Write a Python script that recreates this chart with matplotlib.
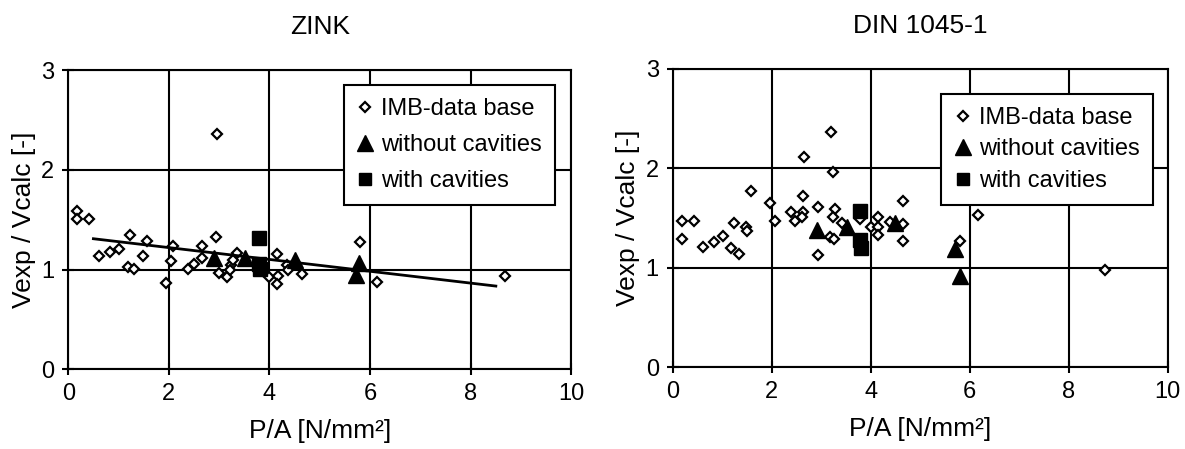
import matplotlib
matplotlib.use("Agg")
import matplotlib.pyplot as plt

plt.rcParams['font.family'] = ['Liberation Sans', 'DejaVu Sans']

# ZINK panel
zink_imb_x = [0.18, 0.18, 0.42, 0.62, 0.83, 1.01, 1.23, 1.18, 1.31, 1.49, 1.57, 1.94,
              2.04, 2.08, 2.39, 2.50, 2.65, 2.65, 2.94, 2.95, 3.00, 3.15, 3.23, 3.27,
              3.35, 3.21, 4.14, 4.00, 4.16, 4.14, 4.34, 4.37, 4.64, 5.79, 6.14, 8.69]
zink_imb_y = [1.59, 1.51, 1.51, 1.14, 1.18, 1.21, 1.35, 1.03, 1.01, 1.14, 1.29, 0.87,
              1.09, 1.24, 1.01, 1.06, 1.24, 1.12, 1.33, 2.36, 0.97, 0.93, 1.05, 1.10,
              1.17, 1.00, 1.16, 0.93, 0.94, 0.86, 1.05, 1.00, 0.96, 1.28, 0.88, 0.94]
zink_nocav_x = [2.90, 3.51, 4.51, 5.77, 5.72]
zink_nocav_y = [1.12, 1.12, 1.10, 1.07, 0.95]
zink_cav_x = [3.79, 3.79, 3.81]
zink_cav_y = [1.32, 1.06, 1.01]
zink_trend_x = [0.5, 8.5]
zink_trend_y = [1.31, 0.835]

# DIN 1045-1 panel
din_imb_x = [0.18, 0.18, 0.42, 0.61, 0.83, 1.02, 1.24, 1.17, 1.33, 1.49, 1.50, 1.58,
             1.97, 2.07, 2.39, 2.47, 2.64, 2.62, 2.64, 2.65, 2.94, 2.94, 3.24, 3.28,
             3.23, 3.18, 3.26, 3.41, 3.20, 3.79, 4.00, 4.15, 4.15, 4.15, 4.39, 4.66,
             4.66, 4.66, 5.80, 6.17, 8.74]
din_imb_y = [1.47, 1.29, 1.47, 1.21, 1.26, 1.32, 1.45, 1.20, 1.14, 1.41, 1.37, 1.77,
             1.65, 1.47, 1.56, 1.47, 1.56, 1.51, 1.72, 2.11, 1.61, 1.13, 1.96, 1.59,
             1.51, 1.31, 1.29, 1.45, 2.37, 1.49, 1.41, 1.51, 1.41, 1.33, 1.46, 1.67,
             1.44, 1.27, 1.27, 1.53, 0.98]
din_nocav_x = [2.91, 3.52, 4.49, 5.71, 5.81]
din_nocav_y = [1.38, 1.41, 1.45, 1.19, 0.92]
din_cav_x = [3.78, 3.78, 3.80]
din_cav_y = [1.57, 1.28, 1.20]

titles = ["ZINK", "DIN 1045-1"]
legend_labels = ["IMB-data base", "without cavities", "with cavities"]
legend_anchor = [(0.968, 0.951), (0.970, 0.916)]
legend_spacing = [0.6, 0.4]

fig = plt.figure(figsize=(11.85, 4.49), dpi=100)
ax1 = fig.add_axes([0.0576, 0.1775, 0.4245, 0.666])
ax2 = fig.add_axes([0.5677, 0.1824, 0.4177, 0.664])

panels = [
    (ax1, zink_imb_x, zink_imb_y, zink_nocav_x, zink_nocav_y, zink_cav_x, zink_cav_y),
    (ax2, din_imb_x, din_imb_y, din_nocav_x, din_nocav_y, din_cav_x, din_cav_y),
]

for i, (ax, ix, iy, nx, ny, cx, cy) in enumerate(panels):
    ax.grid(True, color='black', linewidth=1.5)
    ax.set_axisbelow(True)
    h1, = ax.plot(ix, iy, 'D', ms=5.5, mfc='white', mec='black', mew=1.6,
                  linestyle='none', label=legend_labels[0], zorder=3)
    h2, = ax.plot(nx, ny, '^', ms=12, color='black', linestyle='none',
                  label=legend_labels[1], zorder=4)
    h3, = ax.plot(cx, cy, 's', ms=10, color='black', linestyle='none',
                  label=legend_labels[2], zorder=4)
    if i == 0:
        # trend line of the ZINK data
        ax.plot(zink_trend_x, zink_trend_y, color='black', linewidth=2, zorder=5)
    ax.set_xlim(0, 10)
    ax.set_ylim(0, 3)
    ax.set_xticks([0, 2, 4, 6, 8, 10])
    ax.set_yticks([0, 1, 2, 3])
    ax.tick_params(labelsize=17, direction='inout', length=8, width=1.5, pad=6)
    for s in ax.spines.values():
        s.set_linewidth(1.5)
    ax.set_xlabel("P/A [N/mm²]", fontsize=19, labelpad=10)
    ax.set_ylabel("Vexp / Vcalc [-]", fontsize=19, labelpad=4)
    ax.set_title(titles[i], fontsize=19, pad=26)

    leg = ax.legend(handles=[h1, h2, h3], loc='upper right',
                    bbox_to_anchor=legend_anchor[i], borderaxespad=0,
                    fontsize=17, frameon=True, fancybox=False,
                    edgecolor='black', framealpha=1,
                    handlelength=0.7, handletextpad=0.35,
                    labelspacing=legend_spacing[i], borderpad=0.55)
    leg.get_frame().set_linewidth(1.5)
    for hd, ms in zip(leg.legend_handles, [5, 12, 9]):
        hd.set_markersize(ms)

fig.savefig("out.png", dpi=100)
